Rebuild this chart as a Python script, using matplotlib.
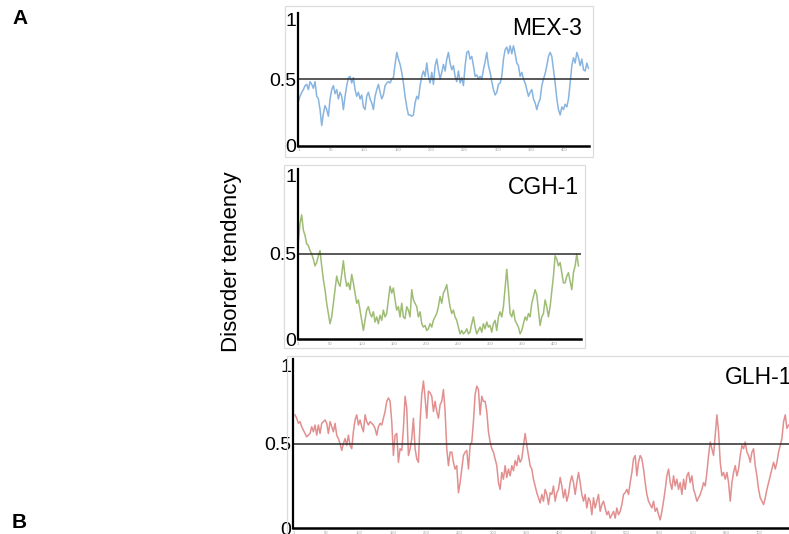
import numpy as np
import matplotlib
matplotlib.use('Agg')
from matplotlib import pyplot as plt
from matplotlib.patches import Rectangle

plt.rcParams['font.family'] = ['Liberation Sans', 'DejaVu Sans']

# disorder tendency profiles, sampled every ~2.5 residues
mex3_disorder = [
    0.33, 0.37, 0.40, 0.42, 0.45, 0.46, 0.42, 0.48, 0.46, 0.43,
    0.48, 0.37, 0.35, 0.27, 0.15, 0.24, 0.30, 0.27, 0.22, 0.35,
    0.42, 0.45, 0.39, 0.42, 0.35, 0.40, 0.37, 0.27, 0.37, 0.45,
    0.51, 0.52, 0.47, 0.51, 0.42, 0.37, 0.40, 0.35, 0.38, 0.29,
    0.27, 0.37, 0.40, 0.35, 0.32, 0.27, 0.37, 0.42, 0.46, 0.40,
    0.35, 0.38, 0.45, 0.47, 0.48, 0.47, 0.50, 0.51, 0.61, 0.70,
    0.65, 0.61, 0.55, 0.47, 0.37, 0.29, 0.23, 0.23, 0.22, 0.23,
    0.32, 0.37, 0.35, 0.45, 0.52, 0.56, 0.52, 0.62, 0.52, 0.47,
    0.55, 0.46, 0.60, 0.65, 0.57, 0.50, 0.55, 0.61, 0.56, 0.65,
    0.70, 0.62, 0.57, 0.60, 0.52, 0.48, 0.56, 0.47, 0.51, 0.45,
    0.60, 0.70, 0.71, 0.65, 0.67, 0.60, 0.52, 0.53, 0.50, 0.52,
    0.50, 0.57, 0.63, 0.70, 0.60, 0.55, 0.48, 0.42, 0.38, 0.40,
    0.46, 0.47, 0.52, 0.65, 0.72, 0.74, 0.69, 0.75, 0.69, 0.75,
    0.69, 0.62, 0.60, 0.52, 0.55, 0.50, 0.47, 0.42, 0.37, 0.40,
    0.42, 0.35, 0.32, 0.27, 0.32, 0.35, 0.45, 0.50, 0.54, 0.60,
    0.67, 0.70, 0.67, 0.57, 0.47, 0.35, 0.27, 0.23, 0.29, 0.27,
    0.31, 0.29, 0.35, 0.47, 0.60, 0.66, 0.62, 0.70, 0.66, 0.60,
    0.65, 0.57, 0.56, 0.62, 0.58,
]

cgh1_disorder = [
    0.57, 0.68, 0.73, 0.64, 0.61, 0.56, 0.55, 0.52, 0.50, 0.47,
    0.43, 0.45, 0.49, 0.52, 0.43, 0.35, 0.29, 0.21, 0.15, 0.09,
    0.13, 0.21, 0.29, 0.37, 0.33, 0.31, 0.38, 0.46, 0.37, 0.31,
    0.33, 0.29, 0.38, 0.33, 0.27, 0.21, 0.23, 0.17, 0.11, 0.05,
    0.11, 0.17, 0.19, 0.15, 0.13, 0.16, 0.10, 0.13, 0.09, 0.14,
    0.11, 0.17, 0.13, 0.15, 0.23, 0.31, 0.27, 0.30, 0.23, 0.17,
    0.19, 0.13, 0.21, 0.13, 0.12, 0.19, 0.17, 0.13, 0.29, 0.23,
    0.21, 0.19, 0.13, 0.16, 0.09, 0.07, 0.08, 0.05, 0.06, 0.09,
    0.07, 0.11, 0.13, 0.15, 0.19, 0.25, 0.21, 0.27, 0.29, 0.32,
    0.25, 0.19, 0.15, 0.17, 0.13, 0.11, 0.07, 0.03, 0.05, 0.03,
    0.04, 0.06, 0.03, 0.04, 0.09, 0.13, 0.07, 0.03, 0.05, 0.07,
    0.04, 0.09, 0.06, 0.10, 0.07, 0.08, 0.04, 0.09, 0.11, 0.05,
    0.13, 0.16, 0.13, 0.19, 0.30, 0.41, 0.29, 0.15, 0.13, 0.17,
    0.11, 0.09, 0.07, 0.03, 0.05, 0.09, 0.13, 0.11, 0.15, 0.13,
    0.21, 0.25, 0.29, 0.26, 0.17, 0.08, 0.13, 0.15, 0.23, 0.19,
    0.13, 0.19, 0.28, 0.37, 0.49, 0.47, 0.43, 0.45, 0.39, 0.33,
    0.33, 0.37, 0.39, 0.34, 0.29, 0.39, 0.43, 0.50, 0.43,
]

glh1_disorder = [
    0.67, 0.65, 0.62, 0.63, 0.60, 0.58, 0.56, 0.54, 0.55, 0.56,
    0.60, 0.57, 0.61, 0.55, 0.61, 0.56, 0.62, 0.63, 0.64, 0.62,
    0.56, 0.63, 0.60, 0.57, 0.62, 0.55, 0.53, 0.50, 0.46, 0.50,
    0.53, 0.49, 0.55, 0.49, 0.47, 0.57, 0.64, 0.67, 0.61, 0.64,
    0.60, 0.57, 0.67, 0.63, 0.61, 0.63, 0.62, 0.61, 0.59, 0.55,
    0.60, 0.62, 0.61, 0.65, 0.69, 0.75, 0.77, 0.75, 0.63, 0.43,
    0.55, 0.56, 0.39, 0.47, 0.46, 0.59, 0.78, 0.71, 0.43, 0.47,
    0.53, 0.65, 0.47, 0.41, 0.39, 0.63, 0.79, 0.87, 0.77, 0.65,
    0.81, 0.80, 0.78, 0.69, 0.75, 0.69, 0.65, 0.73, 0.75, 0.82,
    0.69, 0.47, 0.37, 0.45, 0.45, 0.39, 0.35, 0.37, 0.21, 0.27,
    0.35, 0.43, 0.45, 0.46, 0.35, 0.49, 0.51, 0.63, 0.79, 0.84,
    0.82, 0.67, 0.78, 0.75, 0.75, 0.69, 0.57, 0.51, 0.47, 0.45,
    0.41, 0.37, 0.27, 0.23, 0.33, 0.29, 0.37, 0.30, 0.35, 0.31,
    0.37, 0.34, 0.40, 0.37, 0.43, 0.39, 0.41, 0.49, 0.56, 0.49,
    0.43, 0.37, 0.35, 0.29, 0.25, 0.21, 0.18, 0.15, 0.20, 0.16,
    0.23, 0.20, 0.14, 0.21, 0.20, 0.25, 0.16, 0.21, 0.23, 0.30,
    0.25, 0.18, 0.23, 0.16, 0.20, 0.27, 0.31, 0.27, 0.20, 0.27,
    0.33, 0.27, 0.20, 0.16, 0.20, 0.12, 0.18, 0.16, 0.08, 0.18,
    0.12, 0.16, 0.20, 0.10, 0.14, 0.16, 0.12, 0.08, 0.10, 0.06,
    0.08, 0.10, 0.06, 0.12, 0.08, 0.10, 0.14, 0.20,
    0.21, 0.23, 0.20, 0.27, 0.33, 0.41, 0.43, 0.31, 0.39, 0.43,
    0.41, 0.35, 0.27, 0.20, 0.16, 0.14, 0.12, 0.16, 0.10, 0.12,
    0.08, 0.05, 0.10, 0.16, 0.23, 0.31, 0.35, 0.27, 0.23, 0.31,
    0.25, 0.29, 0.23, 0.27, 0.20, 0.29, 0.23, 0.31, 0.33, 0.27,
    0.31, 0.23, 0.20, 0.16, 0.18, 0.20, 0.23, 0.27, 0.25, 0.33,
    0.43, 0.51, 0.47, 0.43, 0.55, 0.67, 0.57, 0.39, 0.31, 0.33,
    0.29, 0.33, 0.27, 0.16, 0.27, 0.33, 0.37, 0.31, 0.35, 0.43,
    0.49, 0.47, 0.51, 0.45, 0.43, 0.39, 0.45, 0.47, 0.37, 0.31,
    0.23, 0.18, 0.16, 0.14, 0.18, 0.23, 0.27, 0.31, 0.35, 0.39,
    0.35, 0.39, 0.45, 0.49, 0.53, 0.63, 0.67, 0.59, 0.61,
]

mex3_ticks = [1, 50, 100, 150, 200, 250, 300, 350, 400]
cgh1_ticks = [1, 50, 100, 150, 200, 250, 300, 350, 400]
glh1_ticks = [1, 50, 100, 150, 200, 250, 300, 350, 400, 450, 500, 550, 600, 650, 700]

W, H = 789, 534
fig = plt.figure(figsize=(W / 100, H / 100), dpi=100)


def px_rect(left, top, right, bottom):
    return [left / W, 1 - bottom / H, (right - left) / W, (bottom - top) / H]


# light frames around each panel screenshot
for left, top, right, bottom in [(285, 6, 593, 157), (284, 165, 585, 348), (287, 356, 800, 545)]:
    fig.patches.append(Rectangle((left / W, 1 - bottom / H), (right - left) / W, (bottom - top) / H,
                                 transform=fig.transFigure, fill=False, edgecolor='#dcdcdc', lw=0.9))


def disorder_panel(rect, values, start, step, xmax, ticks, color, name, name_x, name_y):
    ax = fig.add_axes(px_rect(*rect))
    ax.patch.set_alpha(0)
    residues = start + step * np.arange(len(values))
    ax.plot(residues, values, color=color, lw=1.1, alpha=0.75)
    ax.axhline(0.5, color='#2b2b2b', lw=1.1)
    ax.set_xlim(0, xmax)
    ax.set_ylim(0, 1)
    for side in ['top', 'right']:
        ax.spines[side].set_visible(False)
    ax.spines['left'].set_linewidth(1.6)
    ax.spines['bottom'].set_linewidth(1.8)
    ax.set_yticks([0, 0.5, 1], ['0', '0.5', '1'])
    ax.tick_params(axis='y', length=0, pad=1, labelsize=14)
    ylabels = ax.get_yticklabels()
    ylabels[2].set_va('top')
    ax.set_xticks(ticks, [str(t) for t in ticks])
    ax.tick_params(axis='x', length=0, pad=2, labelsize=3, labelcolor='#999999')
    ax.text(name_x, name_y, name, transform=ax.transAxes, ha='right', va='top', fontsize=16.5)
    return ax


disorder_panel((297.7, 12.5, 588.5, 145.5), mex3_disorder, 1, 2.5, 436, mex3_ticks,
               '#5f9bd6', 'MEX-3', (582 - 297.7) / 290.8, (145.5 - 17) / 133)
disorder_panel((297.7, 169, 580.5, 339), cgh1_disorder, 1, 2.6, 441, cgh1_ticks,
               '#7ea646', 'CGH-1', (579 - 297.7) / 282.8, (339 - 176) / 170)
disorder_panel((292.7, 359, 800, 528.3), glh1_disorder, 3.5, 2.5, 760.6, glh1_ticks,
               '#d86a6a', 'GLH-1', (792 - 292.7) / 507.3, (528.3 - 366) / 169.3)

fig.text(231 / W, 1 - 262 / H, 'Disorder tendency', rotation=90, ha='center', va='center', fontsize=16)
fig.text(12 / W, 1 - 19 / H, 'A', ha='left', va='center', fontsize=15, fontweight='bold')
fig.text(12 / W, 1 - 522 / H, 'B', ha='left', va='center', fontsize=15, fontweight='bold')

fig.savefig('out.png', dpi=100)
